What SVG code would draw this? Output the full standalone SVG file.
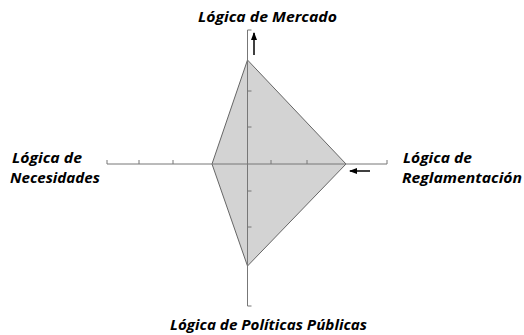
<svg xmlns="http://www.w3.org/2000/svg" width="524" height="335" viewBox="0 0 524 335">
<style>
.lbl{font-family:"Open Sans","Liberation Sans",sans-serif;font-weight:bold;font-style:italic;font-size:15px;fill:#000}
.axis{stroke:#777;stroke-width:1;fill:none}
.tick{stroke:#777;stroke-width:1}
.arr{stroke:#000;stroke-width:1.5;fill:none}
</style>
<defs>
<marker id="ah" markerWidth="8" markerHeight="8" refX="7" refY="4" orient="auto" markerUnits="userSpaceOnUse">
<path d="M0,1 L8,4 L0,7 Z" fill="#000"/>
</marker>
</defs>
<g id="polygon">
<polygon points="247.5,60 346,164 247.5,266 212,164" fill="#d3d3d3" stroke="#666" stroke-width="1"/>
</g>
<g id="connectors">
<line class="axis" x1="107" y1="164" x2="387" y2="164"/>
<line class="axis" x1="247.5" y1="30" x2="247.5" y2="306"/>
<line class="tick" x1="107" y1="160" x2="107" y2="164"/>
<line class="tick" x1="139" y1="160" x2="139" y2="164"/>
<line class="tick" x1="173" y1="160" x2="173" y2="164"/>
<line class="tick" x1="271" y1="160" x2="271" y2="164"/>
<line class="tick" x1="307" y1="160" x2="307" y2="164"/>
<line class="tick" x1="387" y1="160" x2="387" y2="164"/>
<line class="tick" x1="247.5" y1="30" x2="251.5" y2="30"/>
<line class="tick" x1="247.5" y1="91" x2="251.5" y2="91"/>
<line class="tick" x1="247.5" y1="127" x2="251.5" y2="127"/>
<line class="tick" x1="247.5" y1="191" x2="251.5" y2="191"/>
<line class="tick" x1="247.5" y1="227" x2="251.5" y2="227"/>
<line class="tick" x1="247.5" y1="306" x2="251.5" y2="306"/>
<line class="arr" x1="254" y1="55" x2="254" y2="33" marker-end="url(#ah)"/>
<line class="arr" x1="370" y1="171" x2="350" y2="171" marker-end="url(#ah)"/>
</g>
<g id="top-label">
<text class="lbl" x="198" y="22" textLength="139" lengthAdjust="spacingAndGlyphs">Lógica de Mercado</text>
</g>
<g id="left-label">
<text class="lbl" x="12" y="163" textLength="70" lengthAdjust="spacingAndGlyphs">Lógica de</text>
<text class="lbl" x="10" y="183" textLength="90" lengthAdjust="spacingAndGlyphs">Necesidades</text>
</g>
<g id="right-label">
<text class="lbl" x="403" y="163" textLength="69" lengthAdjust="spacingAndGlyphs">Lógica de</text>
<text class="lbl" x="402" y="183" textLength="120" lengthAdjust="spacingAndGlyphs">Reglamentación</text>
</g>
<g id="bottom-label">
<text class="lbl" x="170" y="330" textLength="197" lengthAdjust="spacingAndGlyphs">Lógica de Políticas Públicas</text>
</g>
</svg>
